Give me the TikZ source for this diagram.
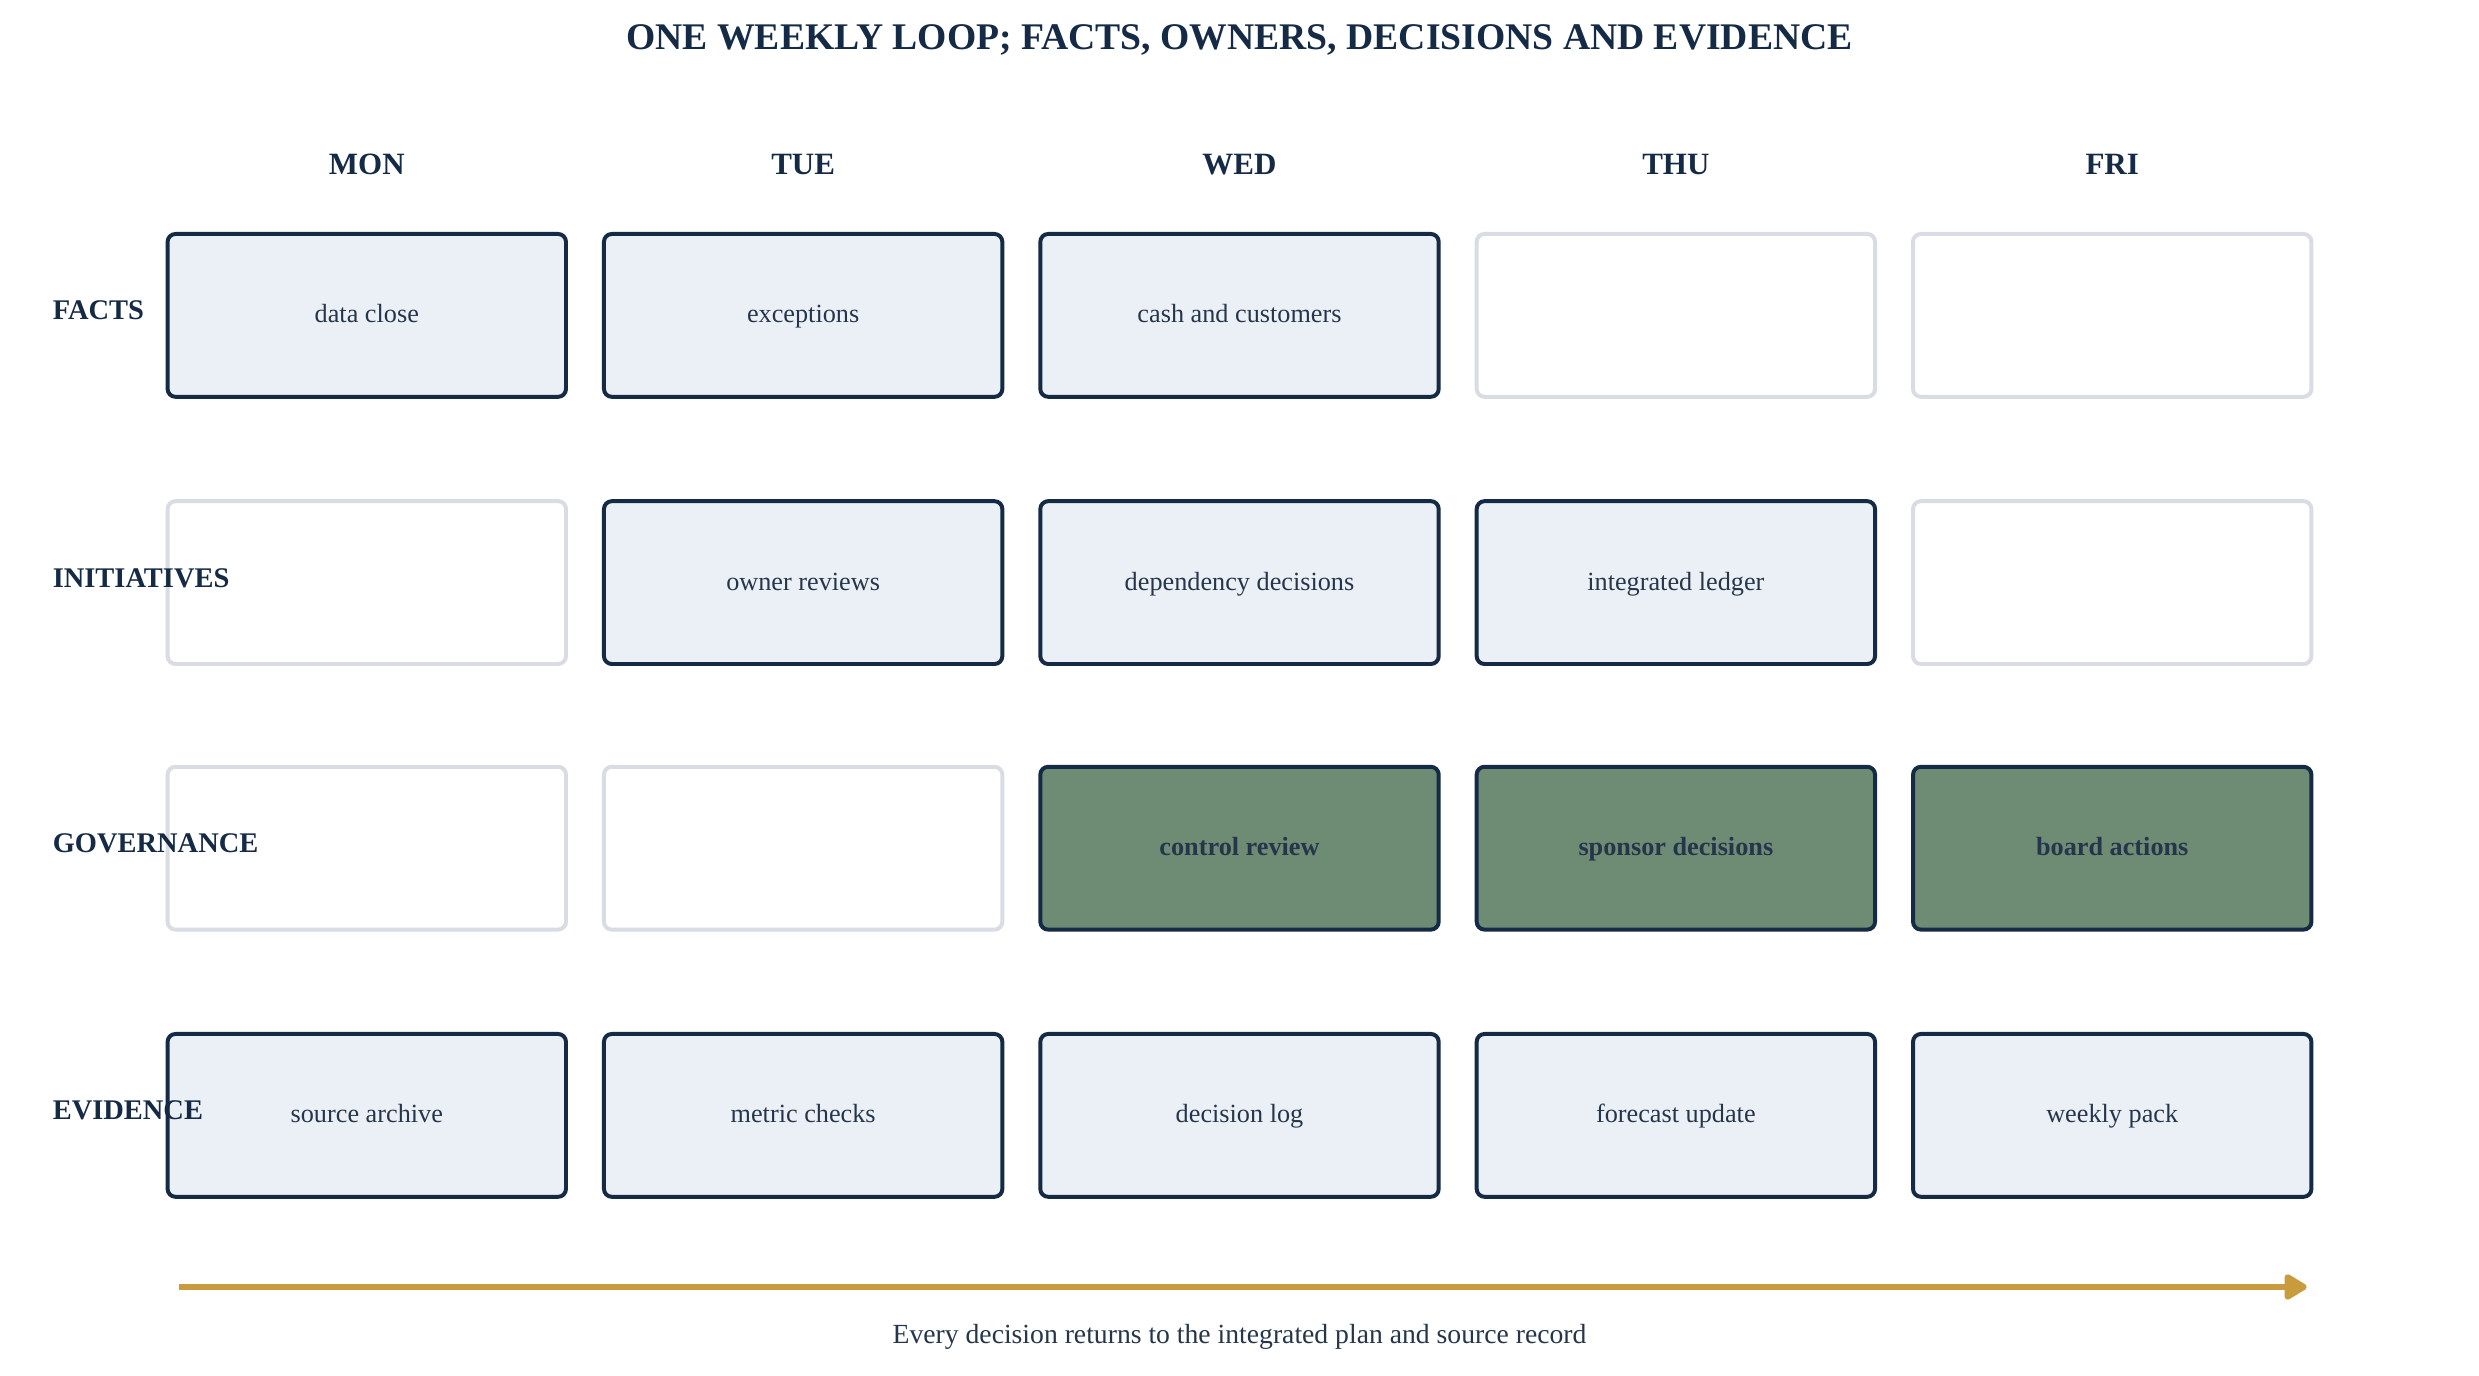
\documentclass[tikz,border=0pt]{standalone}
\usepackage{fontspec}
\setmainfont{Liberation Serif}
\usetikzlibrary{arrows.meta}
\definecolor{navy}{HTML}{142A45}
\definecolor{txt}{HTML}{26364A}
\definecolor{pale}{HTML}{EBF0F7}
\definecolor{sage}{HTML}{6E8B74}
\definecolor{emptyline}{HTML}{D9DCE3}
\definecolor{gold}{HTML}{C89B3C}
\tikzset{
  cell/.style={rectangle, rounded corners=2.5pt, minimum width=126pt, minimum height=51.5pt, line width=1.25pt, inner sep=0pt, text height=0.68em, text depth=0.2em},
  fullcell/.style={cell, draw=navy, fill=pale, text=txt, font=\fontsize{8.3}{10}\selectfont},
  greencell/.style={cell, draw=navy, fill=sage, text=txt, font=\fontsize{8.3}{10}\selectfont\bfseries},
  emptycell/.style={cell, draw=emptyline, fill=white},
  dayhead/.style={text=navy, text height=0.68em, text depth=0.2em, font=\fontsize{9.8}{12}\selectfont\bfseries},
  rowhead/.style={text=navy, anchor=west, inner sep=0pt, font=\fontsize{9}{11}\selectfont\bfseries},
}
\begin{document}
\begin{tikzpicture}[x=0.5pt,y=-0.5pt]
\useasboundingbox[fill=white] (0,0) rectangle (1568,870);
\node[text=navy, text height=0.68em, text depth=0.2em, font=\fontsize{11.9}{14}\selectfont\bfseries] (title) at (784,26.5) {ONE WEEKLY LOOP; FACTS, OWNERS, DECISIONS AND EVIDENCE};
% day headers
\node[dayhead] (hmon) at (232,105.5) {MON};
\node[dayhead] (htue) at (508,105.5) {TUE};
\node[dayhead] (hwed) at (784,105.5) {WED};
\node[dayhead] (hthu) at (1060,105.5) {THU};
\node[dayhead] (hfri) at (1336,105.5) {FRI};
% FACTS row
\node[fullcell] (f1) at (232,199.5) {data close};
\node[fullcell] (f2) at (508,199.5) {exceptions};
\node[fullcell] (f3) at (784,199.5) {cash and customers};
\node[emptycell] (f4) at (1060,199.5) {};
\node[emptycell] (f5) at (1336,199.5) {};
% INITIATIVES row
\node[emptycell] (i1) at (232,368.5) {};
\node[fullcell] (i2) at (508,368.5) {owner reviews};
\node[fullcell] (i3) at (784,368.5) {dependency decisions};
\node[fullcell] (i4) at (1060,368.5) {integrated ledger};
\node[emptycell] (i5) at (1336,368.5) {};
% GOVERNANCE row
\node[emptycell] (g1) at (232,536.5) {};
\node[emptycell] (g2) at (508,536.5) {};
\node[greencell] (g3) at (784,536.5) {control review};
\node[greencell] (g4) at (1060,536.5) {sponsor decisions};
\node[greencell] (g5) at (1336,536.5) {board actions};
% EVIDENCE row
\node[fullcell] (e1) at (232,705.5) {source archive};
\node[fullcell] (e2) at (508,705.5) {metric checks};
\node[fullcell] (e3) at (784,705.5) {decision log};
\node[fullcell] (e4) at (1060,705.5) {forecast update};
\node[fullcell] (e5) at (1336,705.5) {weekly pack};
% row labels
\node[rowhead] (rfacts) at (33,196.5) {FACTS};
\node[rowhead] (rinit) at (33,365.5) {INITIATIVES};
\node[rowhead] (rgov) at (33,533.5) {GOVERNANCE};
\node[rowhead] (revid) at (33,702.5) {EVIDENCE};
% arrow
\coordinate (astart) at (113,814);
\coordinate (aend) at (1459,814);
\draw[gold, line width=1.9pt, -{Triangle[round, length=8pt, width=9pt]}] (astart) -- (aend);
\node[text=txt, text height=0.68em, text depth=0.2em, font=\fontsize{8.75}{11}\selectfont] (caption) at (784,845) {Every decision returns to the integrated plan and source record};
\end{tikzpicture}
\end{document}
